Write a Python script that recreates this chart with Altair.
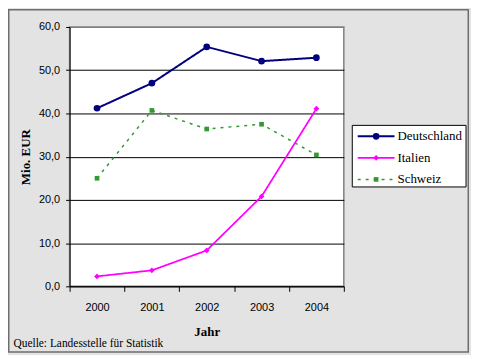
import altair as alt
import pandas as pd

years = ["2000", "2001", "2002", "2003", "2004"]
series = ["Deutschland", "Italien", "Schweiz"]
deutschland = [41.2, 47.0, 55.4, 52.1, 52.9]
italien = [2.3, 3.7, 8.3, 20.8, 41.1]
schweiz = [25.0, 40.7, 36.4, 37.5, 30.4]
colors = ["#000080", "#FF00FF", "#339933"]
y_ticks = [0, 10, 20, 30, 40, 50, 60]
source_text = "Quelle: Landesstelle für Statistik"

rows = []
for name, vals in zip(series, [deutschland, italien, schweiz]):
    for yr, v in zip(years, vals):
        rows.append({"Jahr": yr, "Serie": name, "Wert": v})
df = pd.DataFrame(rows)
leg = pd.DataFrame({"Serie": series})
one = pd.DataFrame({"t": [source_text]})

W, H = 276, 261

color = alt.Color("Serie:N", scale=alt.Scale(domain=series, range=colors), legend=None)
dash = alt.StrokeDash("Serie:N", scale=alt.Scale(domain=series, range=[[1, 0], [1, 0], [3, 5]]), legend=None)
swidth = alt.StrokeWidth("Serie:N", scale=alt.Scale(domain=series, range=[2, 1.5, 2]), legend=None)
shape = alt.Shape("Serie:N", scale=alt.Scale(domain=series, range=["circle", "diamond", "square"]), legend=None)
size = alt.Size("Serie:N", scale=alt.Scale(domain=series, range=[45, 22, 28]), legend=None)

x = alt.X(
    "Jahr:N",
    scale=alt.Scale(type="band", domain=years, paddingInner=0, paddingOuter=0),
    axis=alt.Axis(
        title="Jahr", labelAngle=0, tickBand="extent", tickSize=5, labelPadding=10,
        labelFont="Liberation Sans", labelFontSize=11, labelColor="black",
        titleFont="Liberation Serif", titleFontSize=13, titleFontWeight="bold", titleColor="black",
        titleY=45, titleBaseline="middle",
        domainColor="black", tickColor="black", grid=False,
    ),
)
y = alt.Y(
    "Wert:Q",
    scale=alt.Scale(domain=[0, 60], nice=False),
    axis=alt.Axis(
        values=y_ticks, labelExpr="replace(format(datum.value, '.1f'), '.', ',')",
        tickSize=4, labelPadding=6, labelFont="Liberation Sans", labelFontSize=11, labelColor="black",
        grid=True,
        gridColor={"condition": {"test": "datum.value === 60", "value": "#808080"}, "value": "black"},
        gridWidth=1,
        title="Mio. EUR", titleFont="Liberation Serif", titleFontSize=13, titleFontWeight="bold",
        titleColor="black", titleX=-44, titleY=H / 2, titleAngle=270, titleBaseline="middle",
        titleAlign="center", domainColor="black", tickColor="black",
    ),
)

frame = alt.Chart(one).mark_rect(fill="transparent", stroke="#6e6e6e", strokeWidth=1.5).encode(
    x=alt.value(-61.25), x2=alt.value(401.25), y=alt.value(-17.25), y2=alt.value(327)
)
lines = alt.Chart(df).mark_line(strokeCap="butt").encode(
    x=x, y=y, color=color, strokeDash=dash, strokeWidth=swidth, detail="Serie:N"
)
points = alt.Chart(df).mark_point(filled=True, opacity=1).encode(
    x=x, y=y, color=color, shape=shape, size=size
)
source = alt.Chart(one).mark_text(
    align="left", baseline="middle", font="Liberation Serif", fontSize=11.5, color="black"
).encode(x=alt.value(-56.5), y=alt.value(319), text="t:N")

main = alt.layer(frame, lines, points, source)

ly = alt.Y("Serie:N", scale=alt.Scale(type="point", domain=series, range=[110, 153.4], padding=0), axis=None)
lbox = alt.Chart(one).mark_rect(fill="white", stroke="black", strokeWidth=1).encode(
    x=alt.value(284.5), x2=alt.value(399), y=alt.value(99), y2=alt.value(161)
)
lrule = alt.Chart(leg).mark_rule(strokeCap="butt").encode(
    x=alt.value(290), x2=alt.value(327), y=ly, color=color, strokeDash=dash, strokeWidth=swidth
)
lpt = alt.Chart(leg).mark_point(filled=True, opacity=1).encode(
    x=alt.value(308.5), y=ly, color=color, shape=shape, size=size
)
ltext = alt.Chart(leg).mark_text(
    align="left", baseline="middle", font="Liberation Serif", fontSize=13, color="black"
).encode(x=alt.value(330), y=ly, text="Serie:N")
legend = alt.layer(lbox, lrule, lpt, ltext)

chart = alt.layer(main, legend).resolve_scale(y="independent").properties(
    width=W, height=H, autosize="none",
    padding={"left": 62, "top": 18, "right": 128, "bottom": 68},
    background="#e3e3e3",
).configure_view(fill="white", stroke="#808080", strokeWidth=1.5)

chart.save("out.html", embed_options={"renderer": "svg", "actions": False})
